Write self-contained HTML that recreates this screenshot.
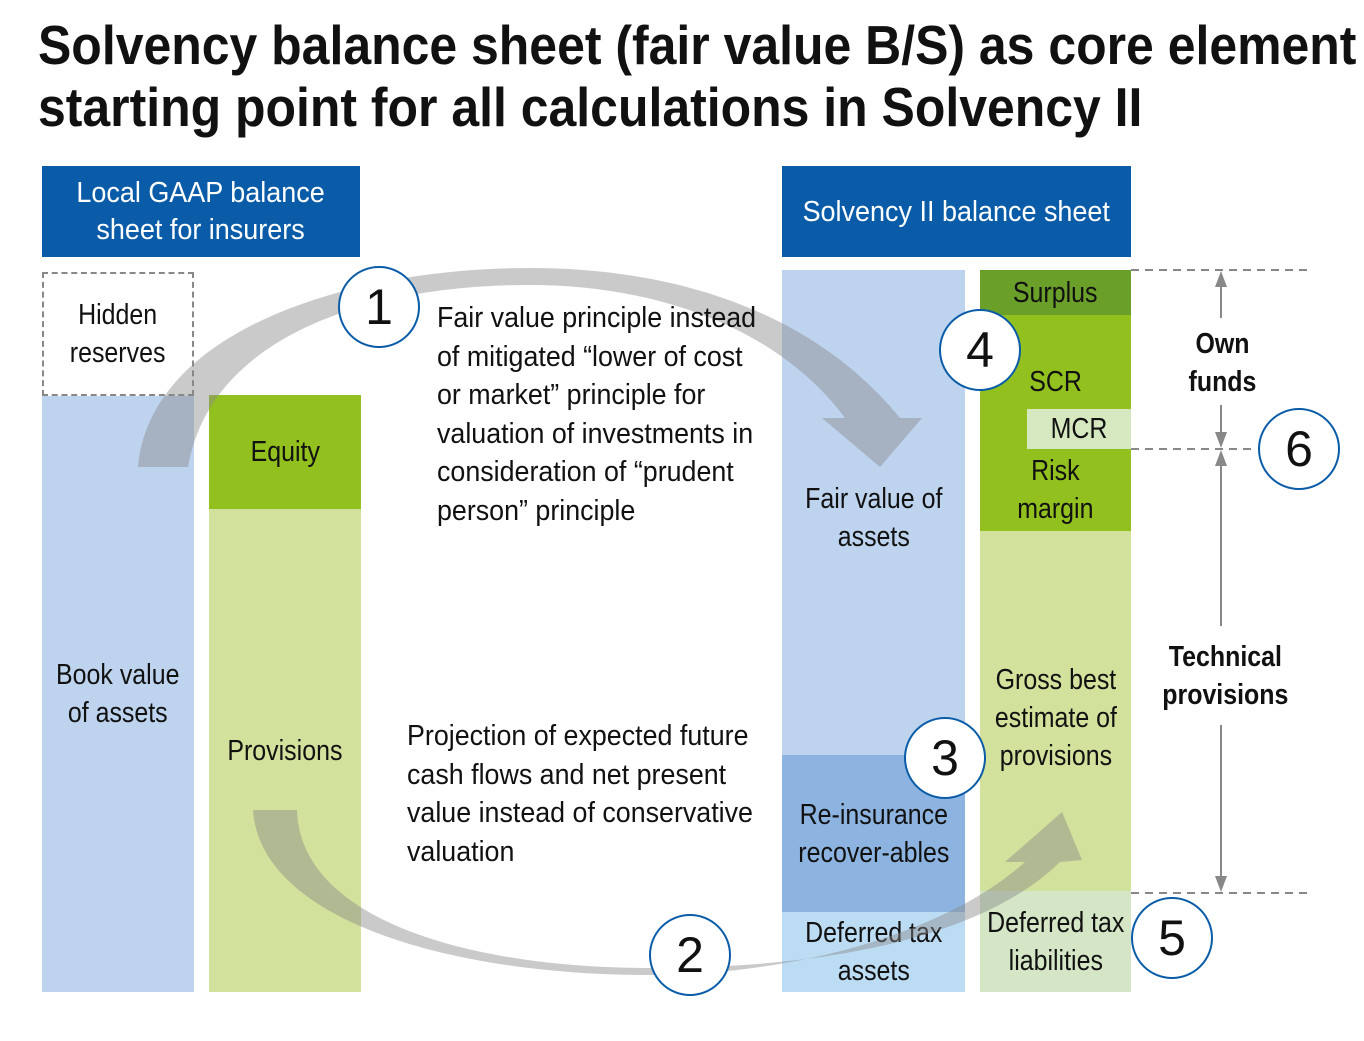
<!DOCTYPE html>
<html><head><meta charset="utf-8"><style>
body{margin:0;width:1364px;height:1041px;background:#fff;position:relative;overflow:hidden;font-family:"Liberation Sans",sans-serif;}
.a{position:absolute;box-sizing:border-box;}
.t{display:flex;align-items:center;justify-content:center;text-align:center;color:#111;font-size:29px;line-height:38px;}
.t span{display:inline-block;transform:scaleX(0.86);white-space:nowrap;}
.h span{transform:scaleX(0.93);}
.c{position:absolute;width:82px;height:82px;border:2px solid #0a5ca8;border-radius:50%;background:#fff;box-sizing:border-box;display:flex;align-items:center;justify-content:center;font-size:50px;color:#111;}
.p{position:absolute;font-size:29px;line-height:38.5px;color:#111;transform:scaleX(0.925);transform-origin:0 0;white-space:nowrap;}
</style></head><body>
<div class="a" style="left:38px;top:14px;font-size:55px;line-height:62px;color:#111;font-weight:bold;white-space:nowrap;transform:scaleX(0.908);transform-origin:0 0">Solvency balance sheet (fair value B/S) as core element<br>starting point for all calculations in Solvency II</div>

<div class="a t h" style="left:42px;top:166px;width:318px;height:91px;background:#0a5ca8;color:#fff;line-height:37px"><span>Local GAAP balance<br>sheet for insurers</span></div>
<div class="a t h" style="left:782px;top:166px;width:349px;height:91px;background:#0a5ca8;color:#fff"><span>Solvency II balance sheet</span></div>

<div class="a t" style="left:42px;top:272px;width:152px;height:124px;border:2px dashed #888"><span>Hidden<br>reserves</span></div>
<div class="a t" style="left:42px;top:396px;width:152px;height:596px;background:#bdd3ee"><span>Book value<br>of assets</span></div>
<div class="a t" style="left:209px;top:395px;width:152px;height:114px;background:#92c01f"><span>Equity</span></div>
<div class="a t" style="left:209px;top:509px;width:152px;height:483px;background:#d2e19c"><span>Provisions</span></div>

<div class="a t" style="left:782px;top:270px;width:183px;height:485px;background:#bdd3ee;padding-top:10px"><span>Fair value of<br>assets</span></div>
<div class="a t" style="left:782px;top:755px;width:183px;height:157px;background:#8db4e0"><span>Re-insurance<br>recover-ables</span></div>
<div class="a t" style="left:782px;top:912px;width:183px;height:80px;background:#bcdcf4"><span>Deferred tax<br>assets</span></div>

<div class="a t" style="left:980px;top:270px;width:151px;height:45px;background:#6a9f2a"><span>Surplus</span></div>
<div class="a" style="left:980px;top:315px;width:151px;height:216px;background:#92c01f"></div>
<div class="a t" style="left:980px;top:362px;width:151px;height:40px"><span>SCR</span></div>
<div class="a t" style="left:1027px;top:409px;width:104px;height:40px;background:#d6e8c0"><span>MCR</span></div>
<div class="a t" style="left:980px;top:452px;width:151px;height:76px"><span>Risk<br>margin</span></div>
<div class="a t" style="left:980px;top:531px;width:151px;height:360px;background:#d2e19c;padding-top:14px"><span>Gross best<br>estimate of<br>provisions</span></div>
<div class="a t" style="left:980px;top:891px;width:151px;height:101px;background:#d4e6c6"><span>Deferred tax<br>liabilities</span></div>

<svg class="a" style="left:0;top:0" width="1364" height="1041">
<path d="M138,467 C150,330 350,268 530,268 C690,268 820,320 900,418 L922,418 L880,467 L822,418 L845,418 C780,330 660,285 530,285 C360,285 210,340 188,467 Z" fill="#8a8a8a" fill-opacity="0.45"/>
<path d="M253,810 C260,920 450,975 650,975 C800,975 950,930 1025,862 L1005,862 L1062,812 L1082,860 L1060,862 C980,940 820,968 650,968 C470,968 300,920 297,810 Z" fill="#8a8a8a" fill-opacity="0.45"/>
<g stroke="#888" stroke-width="2" stroke-dasharray="8,6" fill="none">
<line x1="1131" y1="270" x2="1307" y2="270"/>
<line x1="1131" y1="449" x2="1256" y2="449"/>
<line x1="1131" y1="893" x2="1307" y2="893"/>
</g>
<g stroke="#888" stroke-width="2" fill="none">
<line x1="1221" y1="282" x2="1221" y2="318"/>
<line x1="1221" y1="405" x2="1221" y2="438"/>
<line x1="1221" y1="460" x2="1221" y2="626"/>
<line x1="1221" y1="725" x2="1221" y2="882"/>
</g>
<g fill="#888">
<polygon points="1221,271 1215,287 1227,287"/>
<polygon points="1221,448 1215,432 1227,432"/>
<polygon points="1221,450 1215,466 1227,466"/>
<polygon points="1221,892 1215,876 1227,876"/>
</g>
</svg>

<div class="a t" style="left:1160px;top:324px;width:124px;height:78px;font-weight:bold"><span>Own<br>funds</span></div>
<div class="a t" style="left:1150px;top:637px;width:150px;height:78px;font-weight:bold"><span>Technical<br>provisions</span></div>

<div class="p" style="left:437px;top:299px">Fair value principle instead<br>of mitigated “lower of cost<br>or market” principle for<br>valuation of investments in<br>consideration of “prudent<br>person” principle</div>
<div class="p" style="left:407px;top:717px">Projection of expected future<br>cash flows and net present<br>value instead of conservative<br>valuation</div>

<div class="c" style="left:338px;top:266px">1</div>
<div class="c" style="left:649px;top:914px">2</div>
<div class="c" style="left:904px;top:717px">3</div>
<div class="c" style="left:939px;top:309px">4</div>
<div class="c" style="left:1131px;top:897px">5</div>
<div class="c" style="left:1258px;top:408px">6</div>
</body></html>
